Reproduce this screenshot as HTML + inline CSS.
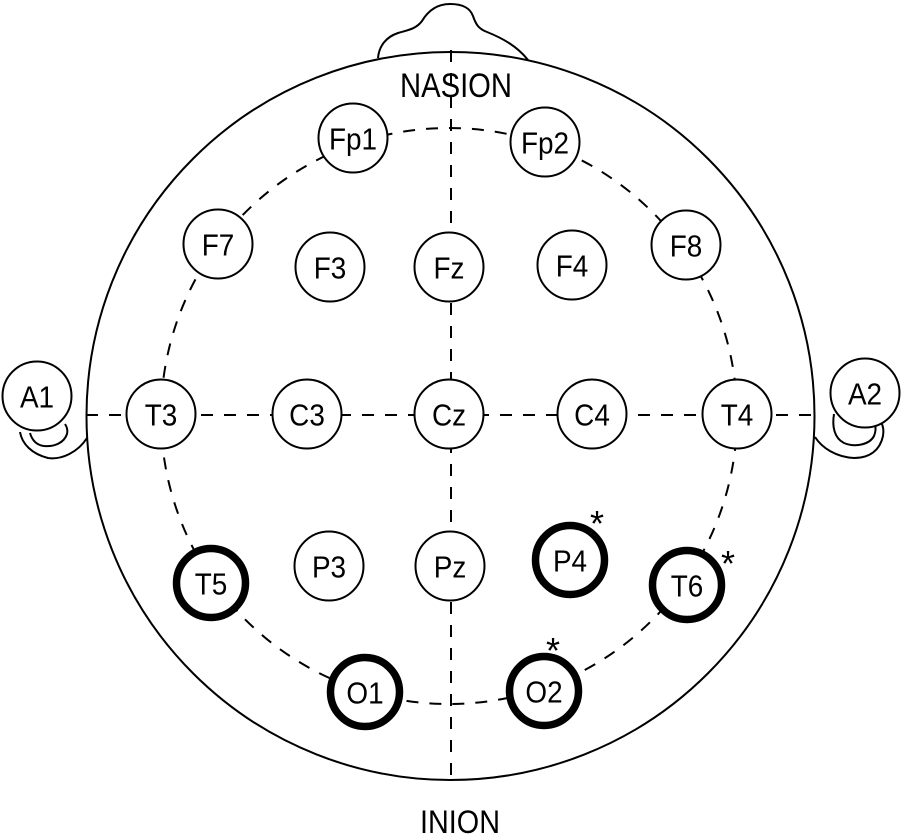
<!DOCTYPE html>
<html><head><meta charset="utf-8"><style>
html,body{margin:0;padding:0;background:#fff;}
svg{display:block;}
text{font-family:"Liberation Sans",Arial,sans-serif;fill:#000;}
</style></head><body>
<svg width="902" height="838" viewBox="0 0 902 838" xmlns="http://www.w3.org/2000/svg">
<!-- nose -->
<path d="M378 58 C379 46 386 37 398 33 C408 30 416 29 422 21 C428 11 437 4 450 4 C463 4 470 8 473 16 C476 25 479 29 487 32 C502 38 517 46 528 60" fill="#fff" stroke="#000" stroke-width="2"/>
<!-- ears -->
<path d="M20 432 C22 444 32 454 48 458 C62 460 78 452 87 438" fill="#fff" stroke="#000" stroke-width="2"/>
<path d="M30 433 C32 440 36 445 44 446 C54 447 64 443 67 434 C68 430 67 427 65 424" fill="none" stroke="#000" stroke-width="2"/>
<path d="M815 437 C822 448 836 457 854 458 C870 458 880 450 883 436 C884 430 883 427 882 424" fill="#fff" stroke="#000" stroke-width="2"/>
<path d="M834 414 C832 426 834 438 844 443 C856 448 870 444 874 436 C876 431 876 428 875 425" fill="none" stroke="#000" stroke-width="2"/>
<!-- head -->
<circle cx="450.5" cy="416" r="364" fill="#fff" stroke="#000" stroke-width="2"/>
<!-- dashed lines -->
<g fill="none" stroke="#000" stroke-width="2" stroke-dasharray="12 11">
<circle cx="449" cy="416" r="288"/>
<line x1="86" y1="415" x2="815" y2="415"/>
<line x1="451" y1="50" x2="451" y2="779"/>
</g>
<!-- labels -->
<text x="400" y="97" font-size="34" textLength="112" lengthAdjust="spacingAndGlyphs">NASION</text>
<text x="420" y="833" font-size="32" textLength="80" lengthAdjust="spacingAndGlyphs">INION</text>
<!-- thin nodes -->
<g fill="#fff" stroke="#000" stroke-width="2">
<circle cx="353" cy="138" r="34.5"/>
<circle cx="545" cy="142" r="34.5"/>
<circle cx="218" cy="244" r="34.5"/>
<circle cx="330" cy="267" r="34.5"/>
<circle cx="449" cy="267" r="34.5"/>
<circle cx="572" cy="265" r="34.5"/>
<circle cx="686" cy="245" r="34.5"/>
<circle cx="161" cy="414" r="34.5"/>
<circle cx="307" cy="414" r="34.5"/>
<circle cx="449" cy="414" r="34.5"/>
<circle cx="592" cy="414" r="34.5"/>
<circle cx="737" cy="414" r="34.5"/>
<circle cx="37" cy="396" r="34.5"/>
<circle cx="865" cy="393" r="34.5"/>
<circle cx="329" cy="566" r="34.5"/>
<circle cx="450" cy="566" r="34.5"/>
</g>
<!-- thick nodes -->
<g fill="#fff" stroke="#000" stroke-width="7.5">
<circle cx="211" cy="583" r="34.5"/>
<circle cx="570" cy="560" r="34.5"/>
<circle cx="687" cy="585" r="34.5"/>
<circle cx="365" cy="692" r="34.5"/>
<circle cx="544" cy="691" r="34.5"/>
</g>
<g font-size="31" text-anchor="middle">
<text transform="translate(353 149.5) scale(0.9 1)">Fp1</text>
<text transform="translate(545 153.5) scale(0.9 1)">Fp2</text>
<text transform="translate(218 255.5) scale(0.9 1)">F7</text>
<text transform="translate(330 278.5) scale(0.9 1)">F3</text>
<text transform="translate(449 278.5) scale(0.9 1)">Fz</text>
<text transform="translate(572 276.5) scale(0.9 1)">F4</text>
<text transform="translate(686 256.5) scale(0.9 1)">F8</text>
<text transform="translate(161 425.5) scale(0.9 1)">T3</text>
<text transform="translate(307 425.5) scale(0.9 1)">C3</text>
<text transform="translate(449 425.5) scale(0.9 1)">Cz</text>
<text transform="translate(592 425.5) scale(0.9 1)">C4</text>
<text transform="translate(737 425.5) scale(0.9 1)">T4</text>
<text transform="translate(37 407.5) scale(0.9 1)">A1</text>
<text transform="translate(865 404.5) scale(0.9 1)">A2</text>
<text transform="translate(329 577.5) scale(0.9 1)">P3</text>
<text transform="translate(450 577.5) scale(0.9 1)">Pz</text>
<text transform="translate(211 594.5) scale(0.9 1)">T5</text>
<text transform="translate(570 571.5) scale(0.9 1)">P4</text>
<text transform="translate(687 596.5) scale(0.9 1)">T6</text>
<text transform="translate(365 703.5) scale(0.9 1)">O1</text>
<text transform="translate(544 702.5) scale(0.9 1)">O2</text>
</g>
<g font-size="36" text-anchor="middle">
<text x="597" y="536">*</text>
<text x="728" y="576">*</text>
<text x="553" y="663">*</text>
</g>
</svg>
</body></html>
